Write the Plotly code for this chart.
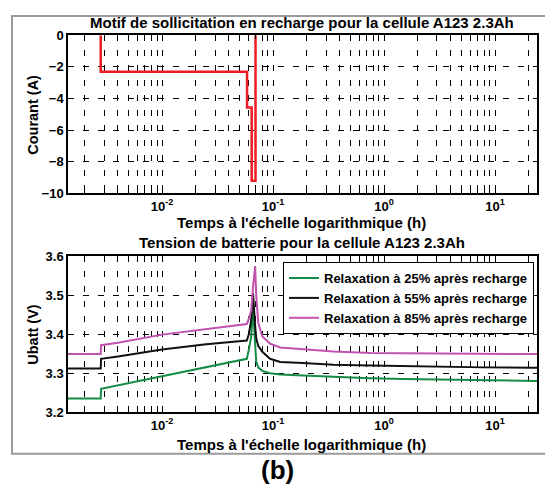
import numpy as np
import plotly.graph_objects as go

# current profile (h, A)
t_cur = [2.8e-3, 2.8e-3, 0.0583, 0.0583, 0.0642, 0.0642, 0.0695, 0.0695]
i_cur = [0, -2.3, -2.3, -4.57, -4.57, -9.2, -9.2, 0]

# voltage relaxation curves (h, V)
t_volt = [1.42e-3, 2.8e-3, 2.82e-3, 4e-3, 1e-2, 2.5e-2, 0.058, 0.0605, 0.0635,
          0.066, 0.069, 0.0705, 0.0735, 0.08, 0.094, 0.116, 0.186, 0.35, 0.75,
          1.5, 3.0, 8.0, 22.0, 24.0]
u_25 = [3.235, 3.235, 3.26, 3.269, 3.293, 3.315, 3.337, 3.36, 3.394,
        3.466, 3.35, 3.33, 3.315, 3.306, 3.300, 3.297, 3.294, 3.290, 3.287,
        3.285, 3.284, 3.282, 3.280, 3.280]
u_55 = [3.312, 3.312, 3.337, 3.343, 3.361, 3.374, 3.384, 3.40, 3.436,
        3.505, 3.42, 3.39, 3.37, 3.355, 3.337, 3.329, 3.326, 3.322, 3.320,
        3.318, 3.316, 3.315, 3.314, 3.314]
u_85 = [3.349, 3.349, 3.372, 3.378, 3.399, 3.413, 3.426, 3.44, 3.46,
        3.52, 3.575, 3.50, 3.43, 3.394, 3.376, 3.366, 3.361, 3.356, 3.352,
        3.351, 3.350, 3.350, 3.349, 3.349]

series = [
    ("Relaxation à 25% après recharge", u_25, "#148c46"),
    ("Relaxation à 55% après recharge", u_55, "#111111"),
    ("Relaxation à 85% après recharge", u_85, "#c052b0"),
]

x_lo, x_hi = np.log10(1.42e-3), np.log10(23.9)

# decades get labels, 2..9 get minor ticks + grid
major_vals, major_text, minor_vals = [], [], []
for d in range(-3, 2):
    for m in range(1, 10):
        v = m * 10.0**d
        if not (10**x_lo <= v <= 10**x_hi):
            continue
        if m == 1:
            major_vals.append(v)
            major_text.append("10<sup>%d</sup>" % d)
        else:
            minor_vals.append(v)

# page body has an 8px margin: keep the figure inside the window
OFF = 8
W, H = 553 - 2 * OFF, 497 - 2 * OFF
px = lambda x: (x - OFF) / W
py = lambda y: 1 - (y - OFF) / H

fig = go.Figure()

fig.add_trace(go.Scatter(x=t_cur, y=i_cur, mode="lines", showlegend=False,
                         line=dict(color="#ee1c24", width=2.5),
                         xaxis="x", yaxis="y"))
for name, u, col in series:
    fig.add_trace(go.Scatter(x=t_volt, y=u, mode="lines", name=name,
                             line=dict(color=col, width=2),
                             xaxis="x2", yaxis="y2"))

font = dict(family="Liberation Sans, Arial", size=15, color="black", weight="bold")
tickfont = dict(font, size=13)
dash = "6px,9px"

xcommon = dict(type="log", range=[x_lo, x_hi],
               tickmode="array", tickvals=major_vals, ticktext=major_text,
               showgrid=True, gridcolor="black", gridwidth=1, griddash=dash,
               minor=dict(tickmode="array", tickvals=minor_vals, ticks="inside",
                          ticklen=4, tickcolor="black", showgrid=True,
                          gridcolor="black", gridwidth=1, griddash=dash),
               showline=True, linecolor="black", linewidth=1.5, mirror="ticks",
               ticks="inside", ticklen=4, tickcolor="black", tickfont=tickfont,
               zeroline=False, domain=[px(68), px(537)])
ycommon = dict(showgrid=True, gridcolor="black", gridwidth=1, griddash=dash,
               showline=True, linecolor="black", linewidth=1.5, mirror="ticks",
               ticks="inside", ticklen=4, tickcolor="black", tickfont=tickfont,
               zeroline=False)

fig.update_layout(
    width=W, height=H,
    margin=dict(l=0, r=0, t=0, b=0),
    paper_bgcolor="white", plot_bgcolor="white",
    font=font,
    xaxis=dict(xcommon, anchor="y"),
    yaxis=dict(ycommon, range=[-10, 0], dtick=2, anchor="x",
               domain=[py(192), py(29)]),
    xaxis2=dict(xcommon, anchor="y2"),
    yaxis2=dict(ycommon, range=[3.2, 3.6], dtick=0.1, tickformat=".1f", anchor="x2",
                domain=[py(418), py(257)]),
    legend=dict(x=px(283), y=py(263), xanchor="left", yanchor="top",
                bgcolor="white", bordercolor="black", borderwidth=1,
                font=dict(font, size=13), itemwidth=30, tracegroupgap=0),
    shapes=[dict(type="rect", xref="paper", yref="paper",
                 x0=px(12), x1=1.05, y0=py(461), y1=py(9),
                 line=dict(color="#9a9a9a", width=2), layer="below")],
)

def ann(text, x, y, size=15, angle=0):
    fig.add_annotation(text=text, x=px(x), y=py(y), xref="paper", yref="paper",
                       showarrow=False, textangle=angle,
                       font=dict(font, size=size), xanchor="center", yanchor="middle")

ann("Motif de sollicitation en recharge pour la cellule A123 2.3Ah", 302, 16)
ann("Temps à l'échelle logarithmique (h)", 301, 222)
ann("Courant (A)", 33, 111, size=14.5, angle=-90)
ann("Tension de batterie pour la cellule A123 2.3Ah", 302, 243)
ann("Temps à l'échelle logarithmique (h)", 301, 451)
ann("Ubatt (V)", 33, 338, size=14.5, angle=-90)
ann("(b)", 277, 478, size=26)

fig.write_html("out.html")
